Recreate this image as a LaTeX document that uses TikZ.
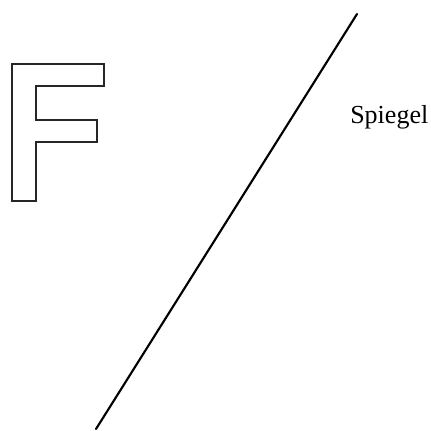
\documentclass[tikz,border=0pt]{standalone}
\usepackage{fontspec}
\setmainfont{Liberation Serif}
\usepackage{tikz}
\usetikzlibrary{positioning,calc}
\tikzset{
  % --- shapes
  glyph/.style  = {draw=black!85, line width=1.1pt, line join=miter},
  mirror/.style = {draw=black, line width=1.6pt, line cap=round},
  lbl/.style    = {font=\fontsize{19.5}{21}\selectfont, anchor=base west, inner sep=0pt},
}
\begin{document}
\begin{tikzpicture}[x=0.75pt,y=-0.75pt]
  \useasboundingbox (0,0) rectangle (431,430);
  % letter F, outline only
  \draw[glyph] (12,64) -- (104,64) -- (104,86) -- (36,86) -- (36,120)
    -- (97,120) -- (97,142) -- (36,142) -- (36,201) -- (12,201) -- cycle;
  % mirror
  \coordinate (top) at (357,14);
  \coordinate (bottom) at (96,429);
  \draw[mirror] (bottom) -- (top);
  \node[lbl] (spiegel) at (350,123) {Spiegel};
\end{tikzpicture}
\end{document}
